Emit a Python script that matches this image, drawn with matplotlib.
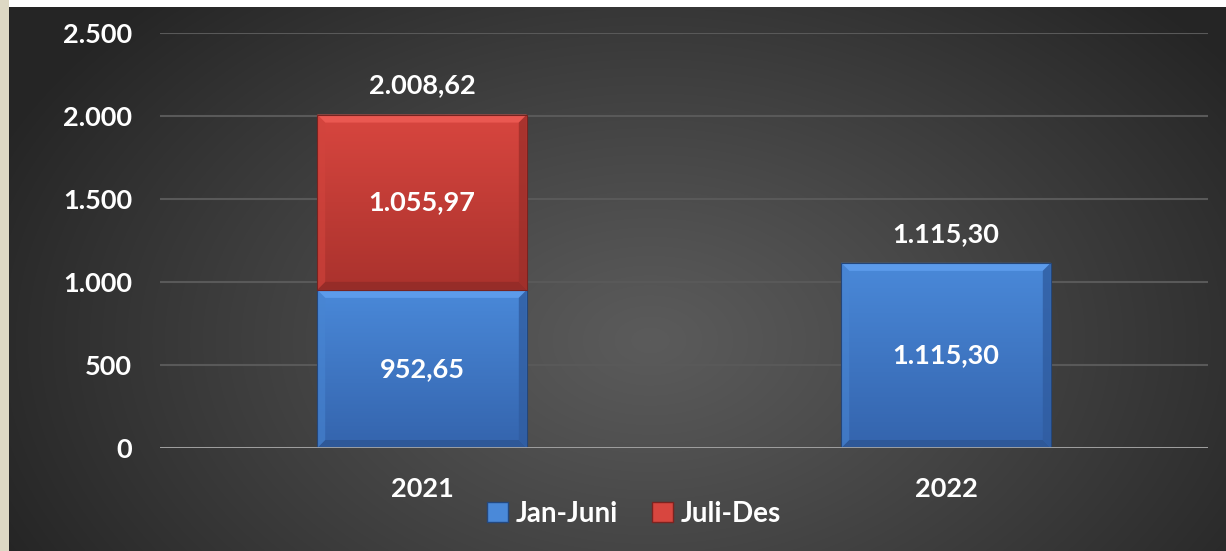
import numpy as np
import matplotlib
matplotlib.use("Agg")
import matplotlib.pyplot as plt
from matplotlib.patches import Rectangle, Polygon

# data
years = ["2021", "2022"]
jan_juni = [952.65, 1115.30]
juli_des = [1055.97, 0.0]
totals = [2008.62, 1115.30]
series_names = ["Jan-Juni", "Juli-Des"]
y_ticks = [0, 500, 1000, 1500, 2000, 2500]

plt.rcParams["font.family"] = ["Lato", "DejaVu Sans"]
plt.rcParams["font.weight"] = "bold"

W, H = 1226, 551
FS = 19.5

BLUE = ("#4a89d9", "#3464ad")
RED = ("#d8463f", "#aa322d")


def fmt(v, dec=2):
    s = f"{v:,.{dec}f}"
    return s.replace(",", "X").replace(".", ",").replace("X", ".")


fig = plt.figure(figsize=(W / 100, H / 100), dpi=100)

# background: dark radial gradient, white strip on top, beige strip left
bg = fig.add_axes([0, 0, 1, 1])
bg.set_axis_off()
yy, xx = np.mgrid[0:H, 0:W]
r = np.sqrt(((xx - 650) / 720.0) ** 2 + ((yy - 340) / 480.0) ** 2)
shade = 0x5b - (0x5b - 0x25) * np.clip(r, 0, 1) ** 1.1
img = np.dstack([shade, shade, shade]) / 255.0
bg.imshow(img, extent=[0, W, H, 0], aspect="auto")
bg.set_xlim(0, W)
bg.set_ylim(H, 0)
bg.add_patch(Rectangle((0, 0), W, 7, color="white", lw=0))
bg.add_patch(Rectangle((0, 0), 9, H, color="#ddd8c4", lw=0))

ax = fig.add_axes([160 / W, (H - 448) / H, 1048 / W, 415 / H])
ax.set_facecolor("none")
x = np.arange(len(years))
bw = 0.4


def bevel_bar(rect, cols):
    # vertical gradient face plus a soft bevel round the edges
    x0, y0 = rect.get_x(), rect.get_y()
    w, h = rect.get_width(), rect.get_height()
    if h <= 0:
        return
    grad = np.linspace(0, 1, 100)[:, None]
    c0 = np.array(matplotlib.colors.to_rgb(cols[0]))
    c1 = np.array(matplotlib.colors.to_rgb(cols[1]))
    g = c0[None, None, :] * (1 - grad[..., None]) + c1[None, None, :] * grad[..., None]
    im = ax.imshow(g, extent=[x0, x0 + w, y0, y0 + h], aspect="auto",
                   origin="upper", zorder=2)
    im.set_clip_path(rect)
    dx, dy = 8 / 524.0, 8 * 2500 / 415.0
    x1, y1 = x0 + w, y0 + h
    ax.add_patch(Polygon([(x0, y1), (x1, y1), (x1 - dx, y1 - dy), (x0 + dx, y1 - dy)],
                         color=tuple(np.clip(c0 + 0.07, 0, 1)), lw=0, zorder=3))
    ax.add_patch(Polygon([(x0, y0), (x1, y0), (x1 - dx, y0 + dy), (x0 + dx, y0 + dy)],
                         color=tuple(c1 * 0.88), lw=0, zorder=3))
    ax.add_patch(Polygon([(x1, y0), (x1, y1), (x1 - dx, y1 - dy), (x1 - dx, y0 + dy)],
                         color=tuple(c1 * 0.93), alpha=0.8, lw=0, zorder=3))
    ax.add_patch(Polygon([(x0, y0), (x0, y1), (x0 + dx, y1 - dy), (x0 + dx, y0 + dy)],
                         color=tuple(c0 * 0.97), alpha=0.6, lw=0, zorder=3))
    ax.add_patch(Rectangle((x0, y0), w, h, fill=False, ec=tuple(c1 * 0.7),
                           lw=0.8, zorder=3))


b1 = ax.bar(x, jan_juni, bw, color=BLUE[0], zorder=2, label=series_names[0])
b2 = ax.bar(x, juli_des, bw, bottom=jan_juni, color=RED[0], zorder=2,
            label=series_names[1])
for rect in b1:
    bevel_bar(rect, BLUE)
for rect in b2:
    bevel_bar(rect, RED)

# labels inside segments and totals on top
for i in range(len(years)):
    ax.text(x[i], jan_juni[i] / 2, fmt(jan_juni[i]), ha="center", va="center",
            color="white", fontsize=FS, fontweight="bold", zorder=5)
    if juli_des[i] > 0:
        ax.text(x[i], jan_juni[i] + juli_des[i] / 2, fmt(juli_des[i]),
                ha="center", va="center", color="white", fontsize=FS,
                fontweight="bold", zorder=5)
    ax.annotate(fmt(totals[i]), (x[i], totals[i]), xytext=(0, 21),
                textcoords="offset points", ha="center", va="center",
                color="white", fontsize=FS, fontweight="bold", zorder=5)

ax.set_xlim(-0.5, 1.5)
ax.set_ylim(0, 2500)
ax.set_yticks(y_ticks)
ax.set_yticklabels([fmt(v, 0) for v in y_ticks])
ax.set_xticks(x)
ax.set_xticklabels(years)
ax.tick_params(axis="both", length=0, colors="white", labelsize=FS)
ax.tick_params(axis="y", pad=20)
ax.tick_params(axis="x", pad=21)
for lab in ax.get_xticklabels() + ax.get_yticklabels():
    lab.set_fontweight("bold")
for s in ax.spines.values():
    s.set_visible(False)
ax.yaxis.grid(True, color="#595959", lw=1.5, zorder=0)
ax.axhline(0, color="#a6a6a6", lw=2, zorder=4)

handles = [Rectangle((0, 0), 1, 1, facecolor=BLUE[0], edgecolor="#24487e"),
           Rectangle((0, 0), 1, 1, facecolor=RED[0], edgecolor="#7c2320")]
fig.legend(handles, series_names, loc="center", bbox_to_anchor=(634 / W, (H - 514) / H),
           ncol=2, frameon=False, handlelength=0.75, handleheight=0.75,
           handletextpad=0.3, columnspacing=1.2, labelcolor="white",
           prop={"weight": "bold", "size": 20})

fig.savefig("out.png", dpi=100)
